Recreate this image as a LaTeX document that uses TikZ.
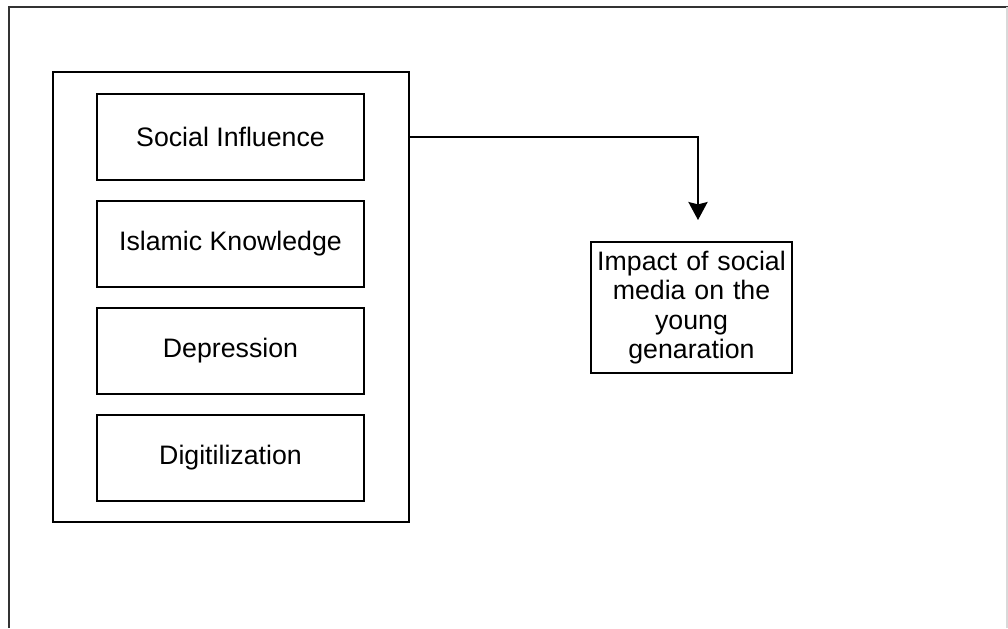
\documentclass[tikz,border=0pt]{standalone}
\usepackage{fontspec}
\setmainfont{Liberation Sans}
\usetikzlibrary{positioning,arrows.meta}

\begin{document}
\begin{tikzpicture}[
      faktor/.style={draw, line width=1.2pt, minimum width=6.675cm,
                     minimum height=2.15cm, outer sep=0pt, align=center},
      hasil/.style={draw, line width=1.2pt, minimum width=5.025cm,
                    minimum height=3.275cm, text width=4.8cm, align=center},
      every node/.style={font=\fontsize{19}{21}\selectfont, inner sep=0pt}]
    \useasboundingbox (0,0) rectangle (25.2,15.7);
    % frame of the page
    \draw[line width=1.2pt, black!80] (0.225,0) -- (0.225,15.525) -- (25.2,15.525);
    \draw[line width=0.8pt, black!15] (25.175,15.525) -- (25.175,0);
    % grouping box with the four factors
    \node[draw, line width=1.2pt, minimum width=8.9cm, minimum height=11.25cm] (grp) at (5.775,8.275) {};
    \node[faktor] (sosial) at (5.7625,12.275) {Social Influence};
    \node[faktor, below=0.525cm of sosial] (islam) {Islamic Knowledge};
    \node[faktor, below=0.525cm of islam]  (depresi) {Depression};
    \node[faktor, below=0.525cm of depresi] (digital) {Digitilization};
    % outcome
    \node[hasil] (impact) at (17.2875,8.0125) {Impact of social\\media on the\\young\\genaration};
    \coordinate (tip) at (17.45,10.2);
    \draw[line width=1.2pt, -{Stealth[length=0.45cm, width=0.48cm, inset=0.06cm]}]
      (sosial -| grp.east) -| (tip);
  \end{tikzpicture}
\end{document}
